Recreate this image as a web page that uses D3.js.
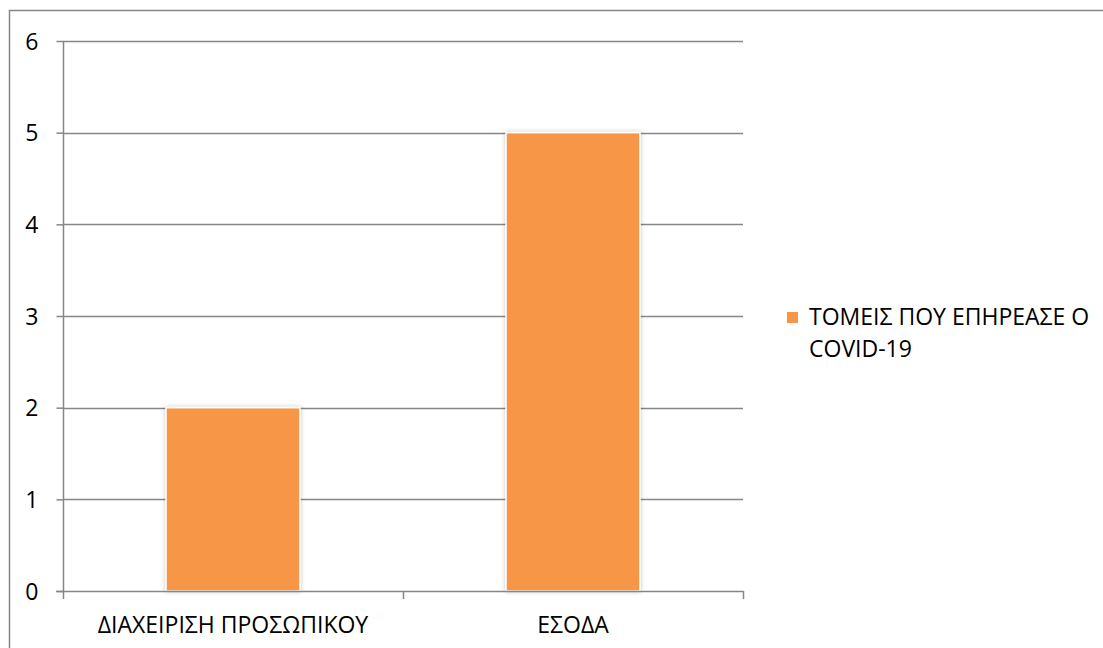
<!DOCTYPE html>
<html>
<head>
<meta charset="utf-8">
<script src="https://cdn.jsdelivr.net/npm/d3@7"></script>
<style>
  html, body { margin: 0; padding: 0; background: #fff; }
  svg { display: block; }
  text { font-family: "Open Sans", "Noto Sans", sans-serif; fill: #000; }
</style>
</head>
<body>
<svg id="chart" width="1103" height="648"></svg>
<script>
// Sectors affected by COVID-19 (count of responses)
const categories = ["ΔΙΑΧΕΙΡΙΣΗ ΠΡΟΣΩΠΙΚΟΥ", "ΕΣΟΔΑ"];
const values = [2, 5];
const seriesName = ["ΤΟΜΕΙΣ ΠΟΥ ΕΠΗΡΕΑΣΕ Ο", "COVID-19"];
const yTicks = [0, 1, 2, 3, 4, 5, 6];

const svg = d3.select("#chart");
const plot = { left: 63, right: 743, top: 41, bottom: 591 };
const barColor = "#F79646";
const gridColor = "#868686";
const fontSize = 23;

// Outer chart frame (runs past the page edges)
svg.append("rect")
  .attr("x", 9.5).attr("y", 10.5)
  .attr("width", 1200).attr("height", 700)
  .attr("fill", "none").attr("stroke", "#868686").attr("stroke-width", 1.5);

const x = d3.scaleBand()
  .domain(categories)
  .range([plot.left, plot.right])
  .paddingInner(0.606).paddingOuter(0.303);

const y = d3.scaleLinear()
  .domain([0, 6])
  .range([plot.bottom, plot.top]);

// Horizontal gridlines
svg.append("g")
  .selectAll("line")
  .data(yTicks.filter(d => d > 0))
  .join("line")
  .attr("x1", plot.left).attr("x2", plot.right)
  .attr("y1", d => Math.round(y(d)) + 0.5).attr("y2", d => Math.round(y(d)) + 0.5)
  .attr("stroke", gridColor).attr("stroke-width", 1.5);

// Soft shadow behind the bars
const defs = svg.append("defs");
const f = defs.append("filter").attr("id", "shadow")
  .attr("x", "-10%").attr("y", "-10%").attr("width", "120%").attr("height", "120%");
f.append("feGaussianBlur").attr("in", "SourceAlpha").attr("stdDeviation", 2).attr("result", "b");
f.append("feComponentTransfer").attr("in", "b").attr("result", "s")
  .append("feFuncA").attr("type", "linear").attr("slope", 0.25);
const m = f.append("feMerge");
m.append("feMergeNode").attr("in", "s");
m.append("feMergeNode").attr("in", "SourceGraphic");

// Bars
svg.append("g")
  .selectAll("rect")
  .data(values)
  .join("rect")
  .attr("x", (d, i) => x(categories[i]))
  .attr("y", d => y(d))
  .attr("width", x.bandwidth())
  .attr("height", d => y(0) - y(d))
  .attr("fill", barColor)
  .attr("stroke", "#fff").attr("stroke-width", 1.5)
  .attr("filter", "url(#shadow)");

// Y axis
const yAxis = d3.axisLeft(y).tickValues(yTicks).tickSize(7).tickPadding(18).tickFormat(d3.format("d"));
const gy = svg.append("g")
  .attr("transform", `translate(${plot.left + 0.5},0)`)
  .call(yAxis);
gy.select(".domain").attr("stroke", gridColor).attr("stroke-width", 1.5)
  .attr("d", `M0,${plot.top}V${plot.bottom}`);
gy.selectAll(".tick line").attr("stroke", gridColor).attr("stroke-width", 1.5);
gy.selectAll(".tick text").attr("font-size", fontSize).attr("font-family", "Open Sans").attr("fill", "#000")
  .attr("dy", "0.36em");

// X axis: baseline, category boundary ticks and labels
const gx = svg.append("g");
gx.append("line")
  .attr("x1", plot.left - 7).attr("x2", plot.right)
  .attr("y1", plot.bottom + 0.5).attr("y2", plot.bottom + 0.5)
  .attr("stroke", gridColor).attr("stroke-width", 1.5);
const bounds = [plot.left, ...categories.map(c => x(c) + x.bandwidth() / 2 + x.step() / 2)];
gx.selectAll("line.tk")
  .data(bounds)
  .join("line").attr("class", "tk")
  .attr("x1", d => Math.round(d) + 0.5).attr("x2", d => Math.round(d) + 0.5)
  .attr("y1", plot.bottom).attr("y2", plot.bottom + 8)
  .attr("stroke", gridColor).attr("stroke-width", 1.5);
gx.selectAll("text")
  .data(categories)
  .join("text")
  .attr("x", d => x(d) + x.bandwidth() / 2)
  .attr("y", 633)
  .attr("text-anchor", "middle")
  .attr("font-size", fontSize)
  .text(d => d);

// Legend
const lg = svg.append("g");
lg.append("rect")
  .attr("x", 787).attr("y", 312).attr("width", 11).attr("height", 11)
  .attr("fill", barColor);
lg.selectAll("text")
  .data(seriesName)
  .join("text")
  .attr("x", 809)
  .attr("y", (d, i) => 325 + i * 32)
  .attr("font-size", fontSize)
  .text(d => d);
</script>
</body>
</html>
